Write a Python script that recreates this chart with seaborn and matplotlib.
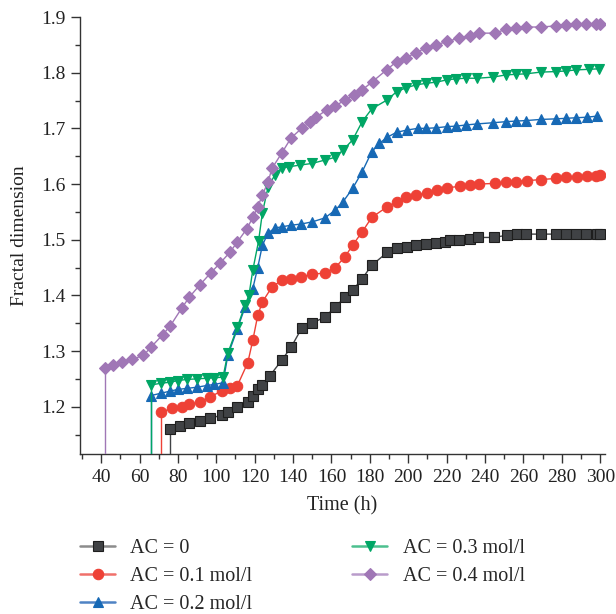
import numpy as np
import pandas as pd
import matplotlib
matplotlib.use("Agg")
import matplotlib.pyplot as plt
from matplotlib.ticker import MultipleLocator
import seaborn as sns

# ---------------- data ----------------
labels = ["AC = 0", "AC = 0.1 mol/l", "AC = 0.2 mol/l", "AC = 0.3 mol/l", "AC = 0.4 mol/l"]

t0 = [76, 81, 86, 91.5, 96.7, 103, 106, 111, 116.4, 119, 121.6, 124, 128, 134, 139, 144.5,
      150, 156.5, 162, 167, 171, 176, 181, 189, 194, 199.5, 204, 209.5, 214.5, 219, 222,
      226.5, 232, 236.5, 244.5, 251.5, 256.5, 261.5, 269, 277, 282, 287.5, 292.5, 298.5, 300]
v0 = [1.160, 1.165, 1.170, 1.174, 1.179, 1.185, 1.190, 1.199, 1.208, 1.219, 1.232, 1.239,
      1.256, 1.283, 1.307, 1.341, 1.350, 1.361, 1.379, 1.397, 1.409, 1.430, 1.454, 1.477,
      1.485, 1.486, 1.490, 1.492, 1.494, 1.496, 1.500, 1.500, 1.502, 1.504, 1.504, 1.508,
      1.510, 1.510, 1.510, 1.510, 1.510, 1.510, 1.510, 1.510, 1.510]

t1 = [71, 77, 82, 86, 91.5, 96.7, 103, 107, 111, 116.4, 119, 121.6, 124, 129, 134, 139,
      144, 150, 156.5, 162, 167, 171, 176, 181, 189, 194, 199, 204, 210, 215, 220, 227, 232,
      237, 245, 251, 256, 262, 269, 277, 282, 288, 293, 298, 300]
v1 = [1.190, 1.197, 1.199, 1.204, 1.208, 1.217, 1.229, 1.233, 1.238, 1.279, 1.319, 1.364,
      1.388, 1.415, 1.427, 1.430, 1.433, 1.438, 1.440, 1.450, 1.469, 1.490, 1.514, 1.540,
      1.559, 1.568, 1.577, 1.580, 1.584, 1.589, 1.593, 1.596, 1.598, 1.600, 1.601, 1.603,
      1.604, 1.606, 1.608, 1.610, 1.612, 1.613, 1.614, 1.615, 1.616]

t2 = [66, 71, 76, 80, 85, 90, 95, 99, 103.5, 106, 111, 115, 119, 121.6, 124, 127, 130.5,
      134, 139, 144, 150, 156.5, 162, 166, 171, 176, 181, 185, 189, 194, 199.5, 205, 209.5,
      214.7, 220, 225, 230, 236, 244, 251, 256, 261.5, 269, 277, 282, 287.5, 293, 298.5]
v2 = [1.220, 1.224, 1.228, 1.231, 1.233, 1.235, 1.238, 1.240, 1.243, 1.292, 1.340, 1.379,
      1.412, 1.450, 1.490, 1.512, 1.521, 1.523, 1.526, 1.528, 1.532, 1.539, 1.553, 1.568,
      1.592, 1.622, 1.658, 1.673, 1.684, 1.693, 1.697, 1.700, 1.700, 1.701, 1.703, 1.704,
      1.706, 1.708, 1.710, 1.712, 1.713, 1.714, 1.716, 1.717, 1.718, 1.719, 1.720, 1.722]

t3 = [66, 71, 76, 80, 85, 90, 95, 99, 103.5, 106, 111, 115, 117, 119, 122, 124, 127, 130.5,
      134, 138, 143.5, 150, 156.5, 162, 166, 171, 176, 181, 189, 194, 199, 204, 209.5, 214.7,
      220, 225, 230, 236, 244, 251, 256, 261.5, 269, 277, 282, 287.5, 294, 299.5]
v3 = [1.239, 1.242, 1.244, 1.247, 1.249, 1.250, 1.251, 1.252, 1.253, 1.296, 1.343, 1.383,
      1.400, 1.445, 1.497, 1.548, 1.595, 1.616, 1.629, 1.631, 1.634, 1.637, 1.643, 1.648,
      1.661, 1.679, 1.712, 1.735, 1.751, 1.766, 1.773, 1.778, 1.781, 1.783, 1.787, 1.789,
      1.790, 1.790, 1.792, 1.796, 1.797, 1.798, 1.801, 1.802, 1.803, 1.805, 1.806, 1.807]

t4 = [42, 46, 51, 56, 62, 66, 72, 76, 82, 86, 91.5, 97, 102, 107, 111, 116, 119, 121.6, 124,
      127, 129, 134, 139, 144.5, 149, 152, 157.5, 162, 167, 172, 176, 181.4, 188.7, 194, 199,
      204, 209.5, 214.7, 220, 226.7, 232, 237, 245, 251, 256, 261.5, 269, 277, 282, 287.5,
      292.7, 298, 300]
v4 = [1.269, 1.275, 1.280, 1.285, 1.292, 1.307, 1.329, 1.345, 1.377, 1.397, 1.419, 1.440,
      1.458, 1.477, 1.496, 1.520, 1.540, 1.559, 1.580, 1.604, 1.628, 1.655, 1.683, 1.700,
      1.712, 1.720, 1.733, 1.740, 1.751, 1.760, 1.769, 1.784, 1.805, 1.820, 1.827, 1.836,
      1.845, 1.850, 1.856, 1.862, 1.866, 1.871, 1.871, 1.878, 1.880, 1.882, 1.882, 1.884,
      1.886, 1.887, 1.888, 1.888, 1.888]

times = [t0, t1, t2, t3, t4]
values = [v0, v1, v2, v3, v4]

colors = ["#404245", "#ee4136", "#1769b5", "#00a665", "#a077b6"]
edge_colors = ["#1e1e1e", "#ee4136", "#1769b5", "#00a665", "#a077b6"]
legend_line_colors = ["#8c8c8c", "#f0706a", "#4f83c4", "#4cc08e", "#b99ccb"]
markers = ["s", "o", "^", "v", "D"]
msizes = [7, 7.5, 7.5, 7.5, 6.5]

# ---------------- figure ----------------
sns.set_theme(style="ticks")
plt.rcParams["font.family"] = ["Liberation Serif", "DejaVu Serif"]

fig = plt.figure(figsize=(6.16, 6.14), dpi=100)
ax = fig.add_axes([80 / 616, 1 - 454 / 614, (605 - 80) / 616, (454 - 17) / 614])

YMIN, YMAX = 1.115, 1.9
XMIN, XMAX = 29, 302.5

handles = []
for i in range(5):
    df = pd.DataFrame({"t": times[i], "v": values[i]})
    sns.lineplot(data=df, x="t", y="v", ax=ax, color=colors[i], lw=1.0,
                 marker=markers[i], markersize=msizes[i], markerfacecolor=colors[i],
                 markeredgecolor=edge_colors[i], markeredgewidth=0.8,
                 estimator=None, sort=False, legend=False, zorder=3 + i)
    ax.vlines(times[i][0], YMIN - 1, values[i][0], color=colors[i], lw=1.0, zorder=2 + i)
    h, = ax.plot([], [], color=legend_line_colors[i], lw=1.8, marker=markers[i],
                 markersize=msizes[i], markerfacecolor=colors[i],
                 markeredgecolor=edge_colors[i], markeredgewidth=0.8)
    handles.append(h)

ax.set_xlim(XMIN, XMAX)
ax.set_ylim(YMIN, YMAX)
ax.xaxis.set_minor_locator(MultipleLocator(10))
ax.yaxis.set_minor_locator(MultipleLocator(0.05))
ax.set_xticks(np.arange(40, 301, 20))
yt = np.round(np.arange(1.2, 1.91, 0.1), 1)
ax.set_yticks(yt)
ax.set_yticklabels([f"{y:.1f}" for y in yt])

for s in ["top", "right"]:
    ax.spines[s].set_visible(False)
for s in ["left", "bottom"]:
    ax.spines[s].set_color("#333333")
    ax.spines[s].set_linewidth(1.0)

ax.tick_params(axis="both", which="major", direction="out", length=6.5, width=1.0,
               color="#333333", labelsize=14, labelcolor="#222222", pad=4)
ax.tick_params(axis="both", which="minor", direction="out", length=3.4, width=1.0,
               color="#333333")

ax.set_xlabel("Time (h)", fontsize=14.5, color="#222222", labelpad=8)
ax.set_ylabel("Fractal dimension", fontsize=14, color="#222222", labelpad=9)

fig.legend(handles, labels, loc="upper left", bbox_to_anchor=(80 / 616, 1 - 539 / 614),
           ncol=2, frameon=False, fontsize=14.5, handlelength=1.75, handletextpad=0.75,
           columnspacing=4.95, labelspacing=0.45, borderaxespad=0, borderpad=0)

fig.savefig("out.png", dpi=100)
